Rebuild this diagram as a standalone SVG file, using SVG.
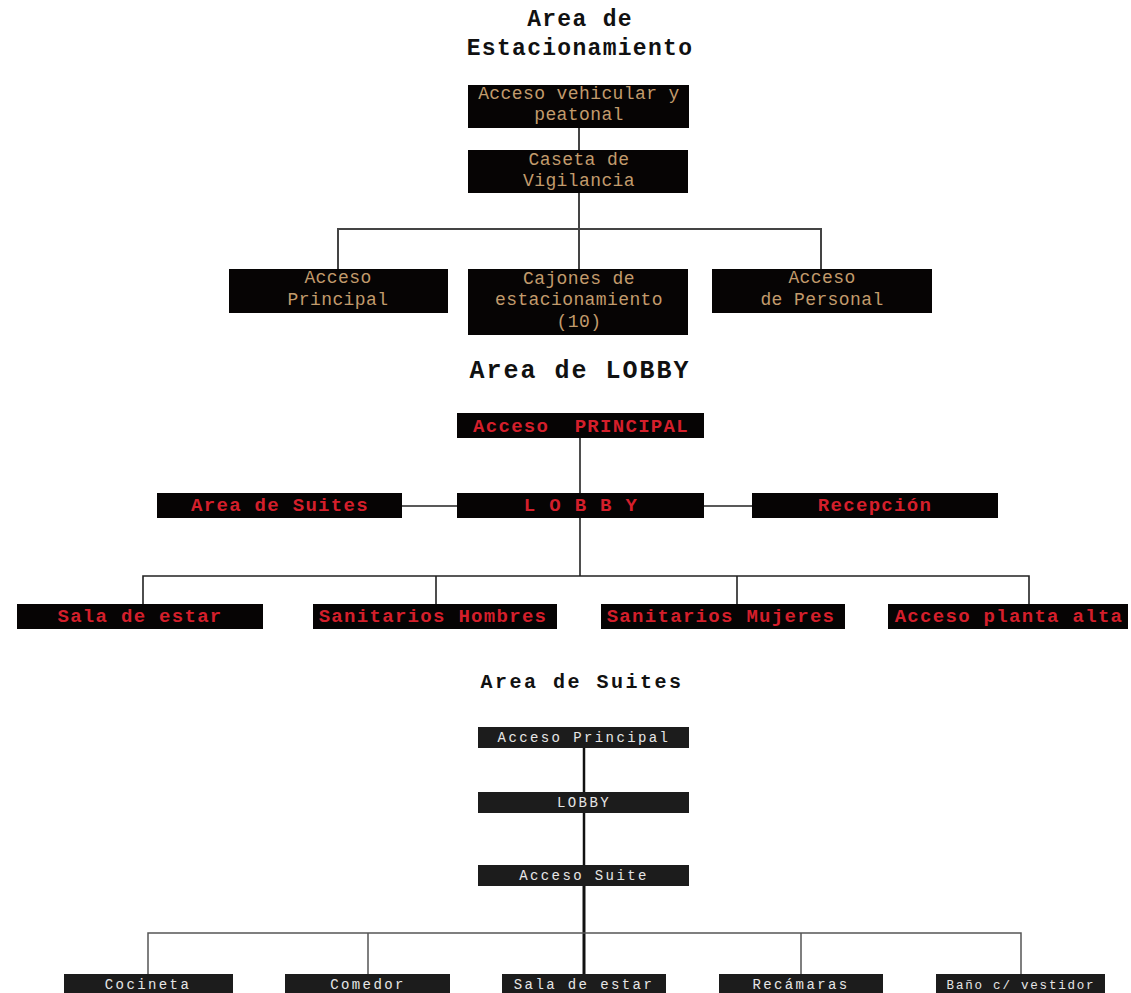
<svg xmlns="http://www.w3.org/2000/svg" width="1131" height="993" viewBox="0 0 1131 993">
<style>
.title{font-family:"Liberation Mono","DejaVu Sans Mono",monospace;font-weight:bold;fill:#111;text-anchor:middle}
.bx{fill:#060404}
.bs{fill:#1c1c1c}
.tan{font-family:"Liberation Mono","DejaVu Sans Mono",monospace;font-size:18px;letter-spacing:0.4px;fill:#c29b6c;text-anchor:middle}
.red{font-family:"Liberation Mono","DejaVu Sans Mono",monospace;font-size:19px;font-weight:bold;letter-spacing:1.3px;fill:#d41f2b;text-anchor:middle;white-space:pre}
.wht{font-family:"Liberation Mono","DejaVu Sans Mono",monospace;font-size:14px;letter-spacing:2.4px;fill:#e6e6e6;text-anchor:middle}
.c1{stroke:#444;stroke-width:2;fill:none}
.c2{stroke:#222;stroke-width:1.6;fill:none}
.c3{stroke:#555;stroke-width:1.5;fill:none}
.c4{stroke:#111;stroke-width:2.5;fill:none}
</style>
<rect width="1131" height="993" fill="#ffffff"/>
<g id="titles">
<text class="title" x="580" y="26" font-size="23" letter-spacing="1.3">Area de</text>
<text class="title" x="580" y="55" font-size="23" letter-spacing="1.3">Estacionamiento</text>
<text class="title" x="580" y="378" font-size="25" letter-spacing="2">Area de LOBBY</text>
<text class="title" x="582" y="688" font-size="20" letter-spacing="2.5">Area de Suites</text>
</g>
<g id="connectors">
<line class="c1" x1="579" y1="128" x2="579" y2="150"/>
<polyline class="c1" points="338,269 338,229 821,229 821,269"/>
<line class="c1" x1="579" y1="193" x2="579" y2="269"/>
<line class="c2" x1="580" y1="438" x2="580" y2="493"/>
<line class="c2" x1="402" y1="506" x2="457" y2="506"/>
<line class="c2" x1="704" y1="506" x2="752" y2="506"/>
<line class="c2" x1="580" y1="518" x2="580" y2="576"/>
<polyline class="c2" points="143,604 143,576 1029,576 1029,604"/>
<line class="c2" x1="436" y1="576" x2="436" y2="604"/>
<line class="c2" x1="737" y1="576" x2="737" y2="604"/>
<line class="c4" x1="584" y1="748" x2="584" y2="865"/>
<line x1="584" y1="886" x2="584" y2="985" stroke="#111" stroke-width="3"/>
<polyline class="c3" points="148,974 148,933 1021,933 1021,974"/>
<line class="c3" x1="368" y1="933" x2="368" y2="974"/>
<line class="c3" x1="801" y1="933" x2="801" y2="974"/>
</g>
<g id="n-acceso-vehicular">
<rect class="bx" x="468" y="85" width="221" height="43"/>
<text class="tan" x="579" y="99">Acceso vehicular y</text>
<text class="tan" x="579" y="120">peatonal</text>
</g>
<g id="n-caseta">
<rect class="bx" x="468" y="150" width="220" height="43"/>
<text class="tan" x="579" y="165">Caseta de</text>
<text class="tan" x="579" y="186">Vigilancia</text>
</g>
<g id="n-acceso-principal-est">
<rect class="bx" x="229" y="269" width="219" height="44"/>
<text class="tan" x="338" y="283">Acceso</text>
<text class="tan" x="338" y="305">Principal</text>
</g>
<g id="n-cajones">
<rect class="bx" x="468" y="269" width="220" height="66"/>
<text class="tan" x="579" y="284">Cajones de</text>
<text class="tan" x="579" y="305">estacionamiento</text>
<text class="tan" x="579" y="327">(10)</text>
</g>
<g id="n-acceso-personal">
<rect class="bx" x="712" y="269" width="220" height="44"/>
<text class="tan" x="822" y="283">Acceso</text>
<text class="tan" x="822" y="305">de Personal</text>
</g>
<g id="n-lobby-acceso">
<rect class="bx" x="457" y="413" width="247" height="25"/>
<text class="red" x="581" y="432" xml:space="preserve">Acceso  PRINCIPAL</text>
</g>
<g id="n-area-suites">
<rect class="bx" x="157" y="493" width="245" height="25"/>
<text class="red" x="280" y="511">Area de Suites</text>
</g>
<g id="n-lobby">
<rect class="bx" x="457" y="493" width="247" height="25"/>
<text class="red" x="581" y="511">L O B B Y</text>
</g>
<g id="n-recepcion">
<rect class="bx" x="752" y="493" width="246" height="25"/>
<text class="red" x="875" y="511">Recepción</text>
</g>
<g id="n-sala-estar">
<rect class="bx" x="17" y="604" width="246" height="25"/>
<text class="red" x="140" y="622">Sala de estar</text>
</g>
<g id="n-san-hombres">
<rect class="bx" x="313" y="604" width="244" height="25"/>
<text class="red" x="433" y="622">Sanitarios Hombres</text>
</g>
<g id="n-san-mujeres">
<rect class="bx" x="601" y="604" width="244" height="25"/>
<text class="red" x="721" y="622">Sanitarios Mujeres</text>
</g>
<g id="n-planta-alta">
<rect class="bx" x="888" y="604" width="240" height="25"/>
<text class="red" x="1009" y="622">Acceso planta alta</text>
</g>
<g id="n-s-acceso">
<rect class="bs" x="478" y="727" width="211" height="21"/>
<text class="wht" x="584" y="742">Acceso Principal</text>
</g>
<g id="n-s-lobby">
<rect class="bs" x="478" y="792" width="211" height="21"/>
<text class="wht" x="584" y="807">LOBBY</text>
</g>
<g id="n-s-acceso-suite">
<rect class="bs" x="478" y="865" width="211" height="21"/>
<text class="wht" x="584" y="880">Acceso Suite</text>
</g>
<g id="n-cocineta">
<rect class="bs" x="64" y="974" width="169" height="22"/>
<text class="wht" x="148" y="989">Cocineta</text>
</g>
<g id="n-comedor">
<rect class="bs" x="285" y="974" width="165" height="22"/>
<text class="wht" x="368" y="989">Comedor</text>
</g>
<g id="n-s-sala">
<rect class="bs" x="502" y="974" width="164" height="22"/>
<text class="wht" x="584" y="989">Sala de estar</text>
</g>
<g id="n-recamaras">
<rect class="bs" x="719" y="974" width="164" height="22"/>
<text class="wht" x="801" y="989">Recámaras</text>
</g>
<g id="n-bano">
<rect class="bs" x="936" y="974" width="169" height="22"/>
<text class="wht" x="1021" y="989" style="font-size:12.5px;letter-spacing:1.8px">Baño c/ vestidor</text>
</g>
</svg>
